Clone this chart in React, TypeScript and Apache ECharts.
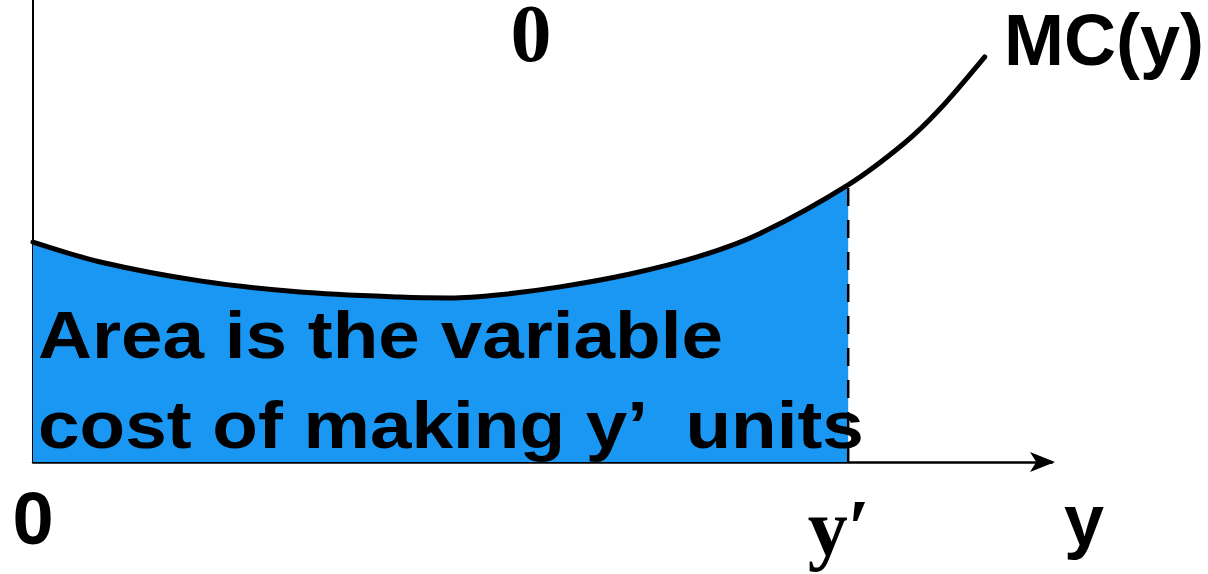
import React, { useEffect, useRef } from "react";
import * as echarts from "echarts";

const curveX = [0, 0.66, 1.64, 2.62, 3.6, 4.09, 4.58, 5.17, 5.86, 6.55, 7.13, 8.0, 8.55, 8.9, 9.34];
const curveY = [4.76, 4.33, 3.92, 3.68, 3.57, 3.55, 3.62, 3.79, 4.07, 4.46, 4.94, 6.0, 6.9, 7.64, 8.77];
const yPrime = 8.0;
const xMin = 0;
const xMax = 10;
const yMin = 0;
const yMax = 10;

const labels = {
  topZero: "0",
  curve: "MC(y)",
  originZero: "0",
  yPrimeLabel: "y\u2032",
  axisName: "y",
  line1: "Area is the variable",
  line2: "cost of making y\u2019  units",
};

export default function App() {
  const ref = useRef<HTMLDivElement>(null);
  useEffect(() => {
    if (!ref.current) return;
    const chart = echarts.init(ref.current, null, { renderer: "svg" });
    const curve = curveX.map((x, i) => [x, curveY[i]]);
    const fill = curve.filter((p) => p[0] <= yPrime);
    const yPrimeVal = curveY[curveX.indexOf(yPrime)];
    const sans = "Liberation Sans, Arial, sans-serif";
    const serif = "Liberation Serif, Times New Roman, serif";
    chart.setOption({
      animation: false,
      backgroundColor: "#ffffff",
      grid: { left: 33, top: 0, width: 1019, height: 462 },
      xAxis: {
        type: "value",
        min: xMin,
        max: xMax,
        axisLine: {
          show: true,
          symbol: ["none", "arrow"],
          symbolSize: [15, 25],
          symbolOffset: [0, 3],
          lineStyle: { color: "#000", width: 2.5 },
        },
        axisTick: { show: false },
        axisLabel: { show: false },
        splitLine: { show: false },
      },
      yAxis: {
        type: "value",
        min: yMin,
        max: yMax,
        axisLine: { show: true, onZero: false, lineStyle: { color: "#000", width: 2 } },
        axisTick: { show: false },
        axisLabel: { show: false },
        splitLine: { show: false },
      },
      series: [
        {
          type: "line",
          data: fill,
          smooth: 0.3,
          symbol: "none",
          lineStyle: { width: 0 },
          areaStyle: { color: "#1a97f2", opacity: 1 },
          z: 1,
        },
        {
          type: "line",
          data: [
            [yPrime, 0],
            [yPrime, yPrimeVal],
          ],
          symbol: "none",
          lineStyle: { color: "#000", width: 2.5, type: [18, 14] },
          z: 2,
        },
        {
          type: "line",
          data: curve,
          smooth: 0.3,
          symbol: "none",
          lineStyle: { color: "#000", width: 5, cap: "round" },
          z: 3,
        },
      ],
      graphic: [
        {
          type: "text",
          z: 100,
          style: { text: labels.topZero, x: 531, y: 33, font: `bold 82px ${serif}`, lineHeight: 64, fill: "#000", align: "center", verticalAlign: "middle" },
        },
        {
          type: "text",
          z: 100,
          style: { text: labels.curve, x: 1004, y: 40, font: `bold 72px ${sans}`, fill: "#000", align: "left", verticalAlign: "middle" },
        },
        {
          type: "text",
          z: 100,
          style: { text: labels.originZero, x: 33, y: 518, font: `bold 74px ${sans}`, fill: "#000", align: "center", verticalAlign: "middle" },
        },
        {
          type: "text",
          z: 100,
          style: { text: labels.yPrimeLabel, x: 839, y: 528, font: `bold 80px ${serif}`, lineHeight: 72, fill: "#000", align: "center", verticalAlign: "middle" },
        },
        {
          type: "text",
          z: 100,
          style: { text: labels.axisName, x: 1084, y: 520, font: `bold 72px ${sans}`, fill: "#000", align: "center", verticalAlign: "middle" },
        },
        {
          type: "text",
          z: 100,
          x: 38,
          y: 335,
          scaleX: 1.115,
          style: { text: labels.line1, x: 0, y: 0, font: `bold 67px ${sans}`, fill: "#000", align: "left", verticalAlign: "middle" },
        },
        {
          type: "text",
          z: 100,
          x: 38,
          y: 425,
          scaleX: 1.115,
          style: { text: labels.line2, x: 0, y: 0, font: `bold 67px ${sans}`, fill: "#000", align: "left", verticalAlign: "middle" },
        },
      ],
    });
    return () => chart.dispose();
  }, []);
  return (
    <div
      ref={ref}
      style={{ position: "fixed", left: 0, top: 0, width: 1208, height: 574, background: "#fff" }}
    />
  );
}
